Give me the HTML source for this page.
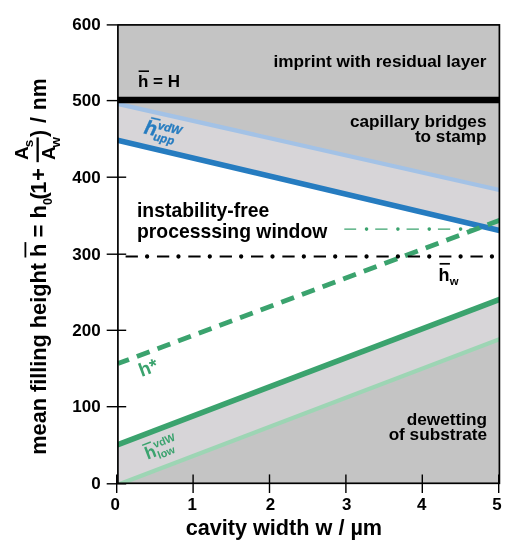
<!DOCTYPE html>
<html lang="en"><head><meta charset="utf-8"><title>Instability-free processing window</title>
<style>html,body{margin:0;padding:0;background:#fff}body{width:525px;height:550px;overflow:hidden}svg{display:block}text{font-family:"Liberation Sans",Arial,sans-serif;font-weight:bold}</style>
</head><body>
<svg width="525" height="550" viewBox="0 0 525 550" fill="#000">
<rect width="525" height="550" fill="#fff"/>
<defs><clipPath id="c"><rect x="117.9" y="24.9" width="381.5" height="458.4"/></clipPath></defs>
<g clip-path="url(#c)">
<polygon fill="#c4c4c4" points="117.9,24.9 499.4,24.9 499.4,189.8 117.9,103.6"/>
<polygon fill="#d7d5d8" points="117.9,103.6 499.4,189.8 499.4,230.3 117.9,140.0"/>
<polygon fill="#d7d5d8" points="117.9,445.0 499.4,299.7 499.4,339.5 117.9,485.0"/>
<polygon fill="#c4c4c4" points="117.9,485.0 499.4,339.5 499.4,483.3 117.9,483.3"/>
<line x1="101.6" y1="100.2" x2="514.2" y2="193.3" stroke="#a3c2e6" stroke-width="4.3" />
<line x1="101.6" y1="490.9" x2="514.2" y2="333.6" stroke="#9dd5b4" stroke-width="4.3" />
<line x1="101.6" y1="136.4" x2="514.2" y2="233.9" stroke="#267cc0" stroke-width="5.6" />
<line x1="101.6" y1="450.8" x2="514.2" y2="293.9" stroke="#3ba36e" stroke-width="5.6" />
<line x1="115.9" y1="100" x2="501.4" y2="100" stroke="#000" stroke-width="6.3"/>
<line x1="117.9" y1="363.6" x2="514.2" y2="214.8" stroke="#3ba36e" stroke-width="4.8" stroke-dasharray="13.6 8.44" stroke-dashoffset="1.8"/>
</g>
<line x1="125.6" y1="256.5" x2="499.4" y2="256.5" stroke="#000" stroke-width="2" stroke-dasharray="12.3 19.05"/>
<line x1="147.1" y1="256.5" x2="496.4" y2="256.5" stroke="#000" stroke-width="4.3" stroke-linecap="round" stroke-dasharray="0 31.35"/>
<line x1="344.3" y1="229.1" x2="484" y2="229.1" stroke="#3ba36e" stroke-width="1.3" stroke-dasharray="12.3 19.05" stroke-dashoffset="0.43"/>
<line x1="366.55" y1="229.1" x2="464" y2="229.1" stroke="#3ba36e" stroke-width="3.6" stroke-linecap="round" stroke-dasharray="0 31.35"/>
<rect x="117.9" y="24.9" width="381.5" height="458.4" fill="none" stroke="#000" stroke-width="1.7"/>
<line x1="116.7" y1="474.4" x2="116.7" y2="493" stroke="#000" stroke-width="1.4"/>
<text x="115.3" y="510.3" font-size="16.9" text-anchor="middle">0</text>
<line x1="193.1" y1="474.4" x2="193.1" y2="493" stroke="#000" stroke-width="1.4"/>
<text x="192.3" y="510.3" font-size="16.9" text-anchor="middle">1</text>
<line x1="269.5" y1="474.4" x2="269.5" y2="493" stroke="#000" stroke-width="1.4"/>
<text x="270.4" y="510.3" font-size="16.9" text-anchor="middle">2</text>
<line x1="345.9" y1="474.4" x2="345.9" y2="493" stroke="#000" stroke-width="1.4"/>
<text x="346.8" y="510.3" font-size="16.9" text-anchor="middle">3</text>
<line x1="422.3" y1="474.4" x2="422.3" y2="493" stroke="#000" stroke-width="1.4"/>
<text x="421.6" y="510.3" font-size="16.9" text-anchor="middle">4</text>
<line x1="498.7" y1="474.4" x2="498.7" y2="493" stroke="#000" stroke-width="1.4"/>
<text x="497.0" y="510.3" font-size="16.9" text-anchor="middle">5</text>
<line x1="106.7" y1="483.8" x2="126.2" y2="483.8" stroke="#000" stroke-width="1.4"/>
<text x="100.6" y="489.3" font-size="17" text-anchor="end">0</text>
<line x1="106.7" y1="406.7" x2="126.2" y2="406.7" stroke="#000" stroke-width="1.4"/>
<text x="100.6" y="412.2" font-size="17" text-anchor="end">100</text>
<line x1="106.7" y1="330.3" x2="126.2" y2="330.3" stroke="#000" stroke-width="1.4"/>
<text x="100.6" y="335.8" font-size="17" text-anchor="end">200</text>
<line x1="106.7" y1="254.2" x2="126.2" y2="254.2" stroke="#000" stroke-width="1.4"/>
<text x="100.6" y="259.7" font-size="17" text-anchor="end">300</text>
<line x1="106.7" y1="177.2" x2="126.2" y2="177.2" stroke="#000" stroke-width="1.4"/>
<text x="100.6" y="182.7" font-size="17" text-anchor="end">400</text>
<line x1="106.7" y1="100.6" x2="126.2" y2="100.6" stroke="#000" stroke-width="1.4"/>
<text x="100.6" y="106.1" font-size="17" text-anchor="end">500</text>
<line x1="106.7" y1="24.9" x2="117" y2="24.9" stroke="#000" stroke-width="1.4"/>
<text x="100.6" y="30.4" font-size="17" text-anchor="end">600</text>
<text x="283.9" y="535.3" font-size="21.65" text-anchor="middle">cavity width w / µm</text>
<g transform="translate(45.7,254) rotate(-90)">
<text x="-200.7" y="0" font-size="21.7">mean filling height</text>
<text x="-3" y="0" font-size="22">h = h<tspan font-size="12.5" dy="6.6">0</tspan><tspan dy="-6.6" dx="-1.5">(</tspan><tspan dx="-1.5">1</tspan><tspan dx="0.5">+</tspan></text>
<rect x="-3.5" y="-21.2" width="15.4" height="1.8"/>
<text x="94" y="-17.6" font-size="19">A<tspan font-size="13.5" dy="5.2" dx="-1">s</tspan></text>
<text x="94" y="8.9" font-size="19">A<tspan font-size="13.5" dy="5.2" dx="-1.2">w</tspan></text>
<rect x="91.8" y="-9.2" width="24.8" height="2.3"/>
<text x="116.9" y="0" font-size="21.2" word-spacing="1.1">) / nm</text>
</g>
<text x="486.5" y="66.5" font-size="17.2" text-anchor="end">imprint with residual layer</text>
<text x="486.5" y="126.9" font-size="17.2" text-anchor="end">capillary bridges</text>
<text x="486.5" y="141.7" font-size="17.2" text-anchor="end">to stamp</text>
<text x="487" y="424.7" font-size="17.2" text-anchor="end">dewetting</text>
<text x="487" y="440.1" font-size="17.2" text-anchor="end">of substrate</text>
<text x="137" y="216.6" font-size="19.35">instability-free</text>
<text x="137" y="237.7" font-size="19.35">processsing window</text>
<text x="138" y="87" font-size="17">h = H</text>
<line x1="138.6" y1="71.2" x2="149" y2="71.2" stroke="#000" stroke-width="1.6"/>
<text x="438.4" y="281.1" font-size="18">h<tspan font-size="11.3" dy="4" dx="0.3">w</tspan></text>
<line x1="439.6" y1="263.8" x2="449.9" y2="263.8" stroke="#000" stroke-width="1.7"/>
<text transform="translate(141.6,377) rotate(-20.4)" font-size="19" fill="#3ba36e">h*</text>
<g transform="translate(147.4,459.7) rotate(-21)" fill="#3ba36e"><text font-size="17.5">h<tspan font-size="10.8" dy="-8" dx="0.3">vdW</tspan></text><text x="11.2" y="3.6" font-size="10.8">low</text><rect x="0.2" y="-16" width="9.3" height="1.5"/></g>
<g transform="translate(143.2,133.3) rotate(13.4)" fill="#267cc0" stroke="#267cc0" stroke-width="0.35"><text font-size="20" font-style="italic">h<tspan font-size="11.5" dy="-7.4" dx="0.5">vdW</tspan></text><text x="10.8" y="4.2" font-size="11.5" font-style="italic">upp</text><rect x="4.3" y="-17.6" width="9.3" height="1.3"/></g>
</svg></body></html>
